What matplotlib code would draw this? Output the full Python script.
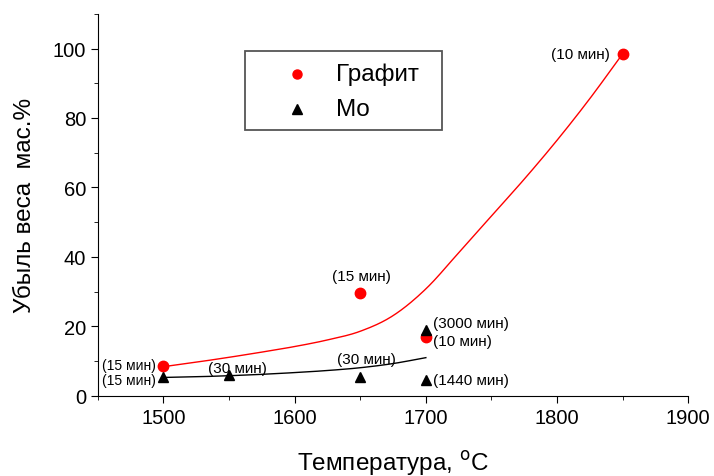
import numpy as np
import matplotlib
matplotlib.use('Agg')
import matplotlib.pyplot as plt
from matplotlib.patches import Rectangle
from matplotlib.ticker import MultipleLocator

plt.rcParams['font.family'] = ['Liberation Sans', 'DejaVu Sans']

# измерения
graphite_t = [1500, 1650, 1700, 1850]
graphite_w = [8.5, 29.5, 17.0, 98.5]
graphite_lbl = ['(15 мин)', '(15 мин)', '(10 мин)', '(10 мин)']

mo_t = [1500, 1550, 1650, 1700, 1700]
mo_w = [5.5, 6.0, 5.5, 19.0, 4.6]
mo_lbl = ['(15 мин)', '(30 мин)', '(30 мин)', '(3000 мин)', '(1440 мин)']

# сглаживающие кривые (шаг 25 градусов)
fit_red_t = [1500, 1525, 1550, 1575, 1600, 1625, 1650, 1675, 1700, 1725, 1750, 1775, 1800, 1825, 1850]
fit_red_w = [8.4, 9.7, 11.1, 12.6, 14.2, 16.1, 18.6, 23.1, 30.8, 41.2, 51.8, 62.4, 73.6, 85.6, 98.5]
fit_blk_t = [1500, 1525, 1550, 1575, 1600, 1625, 1650, 1675, 1700]
fit_blk_w = [5.3, 5.5, 5.8, 6.2, 6.7, 7.3, 8.1, 9.3, 11.0]


def smooth(x, y, n=20):
    # catmull-rom через точки
    x = np.asarray(x, float)
    y = np.asarray(y, float)
    px = np.concatenate([[2 * x[0] - x[1]], x, [2 * x[-1] - x[-2]]])
    py = np.concatenate([[2 * y[0] - y[1]], y, [2 * y[-1] - y[-2]]])
    xs, ys = [], []
    t = np.linspace(0, 1, n, endpoint=False)
    for i in range(1, len(px) - 2):
        for p, out in ((px, xs), (py, ys)):
            p0, p1, p2, p3 = p[i - 1], p[i], p[i + 1], p[i + 2]
            out.extend(0.5 * (2 * p1 + (-p0 + p2) * t + (2 * p0 - 5 * p1 + 4 * p2 - p3) * t ** 2
                              + (-p0 + 3 * p1 - 3 * p2 + p3) * t ** 3))
    xs.append(x[-1])
    ys.append(y[-1])
    return xs, ys


fig = plt.figure(figsize=(7.14, 4.77), dpi=100)
ax = fig.add_axes([0.137, 0.168, 0.827, 0.801])

ax.plot(*smooth(fit_red_t, fit_red_w), color='red', linewidth=1.0)
ax.plot(*smooth(fit_blk_t, fit_blk_w), color='black', linewidth=1.0)
ax.plot(graphite_t, graphite_w, 'o', color='red', markersize=7.5, zorder=3)
ax.plot(mo_t, mo_w, '^', color='black', markersize=7.5, zorder=3)

# подписи времени выдержки: (dx, dy, выравнивание, размер)
g_off = [(-8, 1, 'right', 10), (1, 17, 'center', 11), (7, -4, 'left', 11), (-13, 0, 'right', 11)]
for t, w, s, (dx, dy, ha, fs) in zip(graphite_t, graphite_w, graphite_lbl, g_off):
    ax.annotate(s, (t, w), xytext=(dx, dy), textcoords='offset pixels',
                ha=ha, va='center', fontsize=fs)
m_off = [(-8, -3, 'right', 10), (8, 7, 'center', 11), (6, 18, 'center', 11),
         (7, 7, 'left', 11), (7, 0, 'left', 11)]
for t, w, s, (dx, dy, ha, fs) in zip(mo_t, mo_w, mo_lbl, m_off):
    ax.annotate(s, (t, w), xytext=(dx, dy), textcoords='offset pixels',
                ha=ha, va='center', fontsize=fs)

ax.set_xlim(1450, 1900)
ax.set_ylim(0, 110)
ax.xaxis.set_major_locator(MultipleLocator(100))
ax.xaxis.set_minor_locator(MultipleLocator(50))
ax.set_yticks([0, 20, 40, 60, 80, 100])
ax.yaxis.set_minor_locator(MultipleLocator(10))
ax.tick_params(which='major', length=5, labelsize=14.5, direction='out')
ax.tick_params(which='minor', length=3, direction='out')
ax.spines['top'].set_visible(False)
ax.spines['right'].set_visible(False)

ax.set_xlabel('Температура, $^\\mathrm{o}$C', fontsize=17.5, labelpad=15)
ax.set_ylabel('Убыль веса  мас.%', fontsize=17.5, labelpad=12)

# легенда в рамке
ax.add_patch(Rectangle((0.249, 0.696), 0.334, 0.207, transform=ax.transAxes,
                       facecolor='white', edgecolor='#555555', linewidth=1.3, zorder=4))
ax.plot([0.337], [0.843], 'o', color='red', markersize=6.5, transform=ax.transAxes,
        zorder=5, clip_on=False)
ax.plot([0.337], [0.751], '^', color='black', markersize=6.5, transform=ax.transAxes,
        zorder=5, clip_on=False)
ax.text(0.403, 0.843, 'Графит', transform=ax.transAxes, fontsize=17.5, va='center', zorder=5)
ax.text(0.403, 0.751, 'Mo', transform=ax.transAxes, fontsize=17.5, va='center', zorder=5)

fig.savefig('out.png', dpi=100)
